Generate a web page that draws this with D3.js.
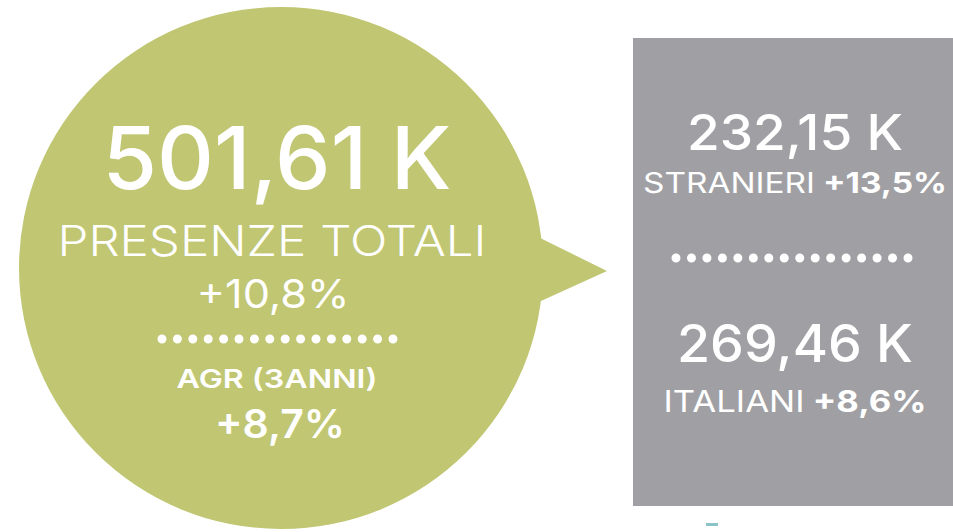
<!DOCTYPE html>
<html>
<head>
<meta charset="utf-8">
<script src="https://cdn.jsdelivr.net/npm/d3@7"></script>
<style>
  body { margin: 0; background: #fff; }
  svg { display: block; font-family: "Inter", "Noto Sans", sans-serif; }
</style>
</head>
<body>
<svg id="chart" width="953" height="532"></svg>
<script>
// data
const totalValue = 501.61;           // presenze totali (K)
const totalLabel = "PRESENZE TOTALI";
const totalGrowth = "+10,8%";
const agrLabel = "AGR (3ANNI)";
const agrGrowth = "+8,7%";

const segments = ["STRANIERI", "ITALIANI"];
const segmentValues = [232.15, 269.46]; // K
const segmentGrowth = ["+13,5%", "+8,6%"];

const it = d3.formatLocale({decimal: ",", thousands: ".", grouping: [3], currency: ["€", ""]});
const fmt = d => it.format(".2f")(d) + " K";

const svg = d3.select("#chart");
const green = "#c0c672", grey = "#a0a0a4";

// bubble
svg.append("ellipse")
  .attr("cx", 281).attr("cy", 268)
  .attr("rx", 262).attr("ry", 261)
  .attr("fill", green);

svg.append("path")
  .attr("d", "M530,233 L607,271 L530,306 Z")
  .attr("fill", green);

// grey panel
svg.append("rect")
  .attr("x", 633).attr("y", 38)
  .attr("width", 953 - 633).attr("height", 468)
  .attr("fill", grey);

svg.append("rect") // small cropped mark under the panel
  .attr("x", 706).attr("y", 523)
  .attr("width", 12).attr("height", 3)
  .attr("fill", "#8cc3c6");

function addText(g, x, y, size, weight, width, parts) {
  const t = g.append("text")
    .attr("x", x).attr("y", y)
    .attr("text-anchor", "middle")
    .attr("fill", "#fff")
    .attr("font-size", size)
    .attr("textLength", width)
    .attr("lengthAdjust", "spacingAndGlyphs");
  parts.forEach((p, i) => {
    t.append("tspan")
      .attr("font-weight", p.w || weight)
      .text((i > 0 ? " " : "") + p.t);
  });
  return t;
}

// dotted separator, 16 dots
function dots(g, x0, x1, y) {
  g.append("line")
    .attr("x1", x0).attr("x2", x1 + 1)
    .attr("y1", y).attr("y2", y)
    .attr("stroke", "#fff")
    .attr("stroke-width", 9)
    .attr("stroke-linecap", "round")
    .attr("stroke-dasharray", "0 " + ((x1 - x0) / 15));
}

const left = svg.append("g");
addText(left, 277, 189, 86, 500, 349, [{t: fmt(totalValue)}]);
addText(left, 272, 256, 42, 300, 429, [{t: totalLabel}]);
addText(left, 273, 308, 40, 400, 153, [{t: totalGrowth}]);
dots(left, 162, 393, 339);
addText(left, 277, 388, 26, 600, 201, [{t: agrLabel}]);
addText(left, 280, 438, 40, 600, 130, [{t: agrGrowth}]);

// right panel
const right = svg.append("g");
const rows = [
  {valueY: 150, valueSize: 50, valueW: 216, labelY: 193, labelSize: 28, labelW: 304},
  {valueY: 362, valueSize: 52, valueW: 236, labelY: 412, labelSize: 30, labelW: 263}
];
segments.forEach((s, i) => {
  const r = rows[i];
  addText(right, 795, r.valueY, r.valueSize, 500, r.valueW, [{t: fmt(segmentValues[i])}]);
  addText(right, 795, r.labelY, r.labelSize, 400, r.labelW, [{t: s}, {t: segmentGrowth[i], w: 700}]);
});
dots(right, 676, 908, 258);
</script>
</body>
</html>
